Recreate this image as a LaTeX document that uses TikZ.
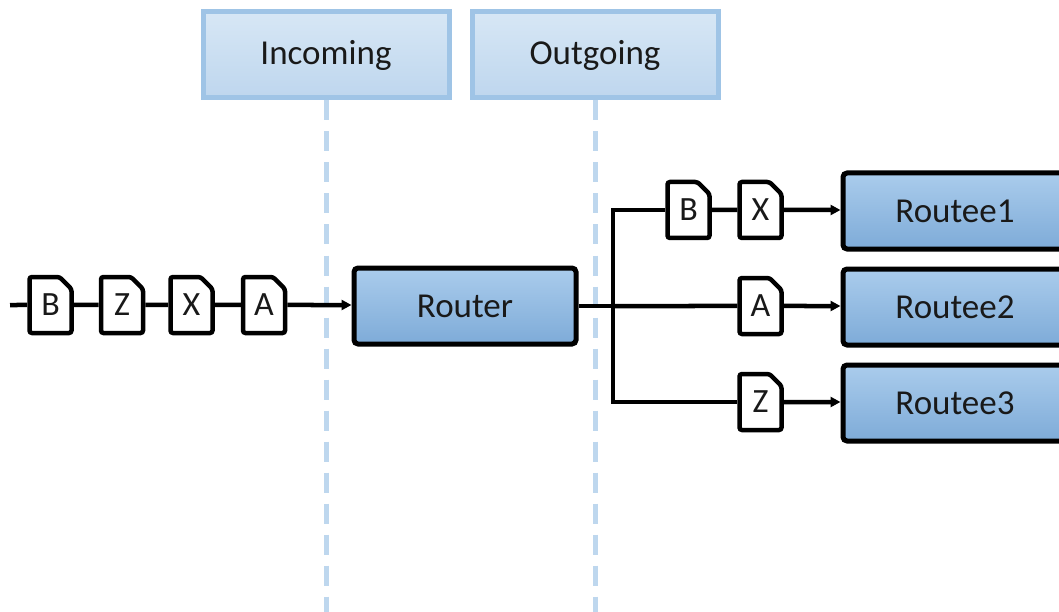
\documentclass[tikz,border=0pt]{standalone}
\usepackage{fontspec}
\setmainfont{Carlito}
\usetikzlibrary{arrows.meta,shapes.misc}

\definecolor{hdrtop}{RGB}{215,231,245}
\definecolor{hdrbot}{RGB}{190,214,238}
\definecolor{hdrline}{RGB}{159,196,230}
\definecolor{boxtop}{RGB}{170,204,236}
\definecolor{boxbot}{RGB}{126,171,216}
\definecolor{laneline}{RGB}{190,215,238}
\definecolor{txt}{RGB}{25,25,25}

\tikzset{
  header/.style={rectangle, draw=hdrline, line width=5pt,
    top color=hdrtop, bottom color=hdrbot,
    minimum width=246pt, minimum height=86pt, inner sep=0pt,
    font=\fontsize{35}{42}\selectfont, text=txt},
  actor/.style={rectangle, rounded corners=4pt, draw=black, line width=5pt,
    top color=boxtop, bottom color=boxbot,
    minimum height=76pt, inner sep=0pt,
    font=\fontsize{35}{42}\selectfont, text=txt},
  msg/.style={chamfered rectangle, chamfered rectangle corners=north east,
    chamfered rectangle xsep=6pt, chamfered rectangle ysep=6pt,
    rounded corners=2.5pt, draw=black, line width=4.5pt, fill=white,
    minimum width=42pt, minimum height=56pt, inner sep=0pt,
    font=\fontsize{34}{40}\selectfont, text=txt},
  lane/.style={draw=laneline, line width=5pt, dash pattern=on 20pt off 11pt},
  wire/.style={draw=black, line width=4.5pt},
  flow/.style={wire, -{Triangle[length=10pt,width=10pt]}}
}

\begin{document}
\begin{tikzpicture}[x=1pt,y=-1pt]
  \clip (0,0) rectangle (1059,612);
  \fill[white] (0,0) rectangle (1059,612);

  % lane headers and their dashed separators
  \node[header] (inc) at (326,55) {\raisebox{-3pt}{Incoming}};
  \node[header] (out) at (595,55) {\raisebox{-3pt}{Outgoing}};
  \coordinate (incend) at (326,612);
  \coordinate (outend) at (595,612);
  \draw[lane] (inc.south) -- (incend);
  \draw[lane] (out.south) -- (outend);

  % router and routees
  \node[actor, minimum width=222pt] (router) at (465,306) {Router};
  \node[actor, minimum width=224pt] (r1) at (955,211) {Routee1};
  \node[actor, minimum width=224pt] (r2) at (955,307) {Routee2};
  \node[actor, minimum width=224pt] (r3) at (955,403) {Routee3};

  % incoming message queue
  \coordinate (src) at (10,305);
  \node[msg] (mb) at (50.5,305) {B};
  \node[msg] (mz) at (122,305) {Z};
  \node[msg] (mx) at (191.5,305) {X};
  \node[msg] (ma) at (264,305) {A};

  % routed messages
  \node[msg] (ob) at (688.5,210) {B};
  \node[msg] (ox) at (760.5,210) {X};
  \node[msg] (oa) at (760.5,306) {A};
  \node[msg] (oz) at (760.5,402) {Z};

  \coordinate (fork) at (613,306);

  % connectors
  \draw[wire] (src) -- (mb) -- (mz) -- (mx) -- (ma);
  \draw[flow] (ma) -- (router.west |- ma);
  \draw[wire] (router.east |- fork) -- (fork);
  \draw[wire] (fork) |- (ob.west);
  \draw[wire] (ob) -- (ox);
  \draw[flow] (ox) -- (r1.west |- ox);
  \draw[wire] (fork) -- (oa);
  \draw[flow] (oa) -- (r2.west |- oa);
  \draw[wire] (fork) |- (oz.west);
  \draw[flow] (oz) -- (r3.west |- oz);
\end{tikzpicture}
\end{document}
